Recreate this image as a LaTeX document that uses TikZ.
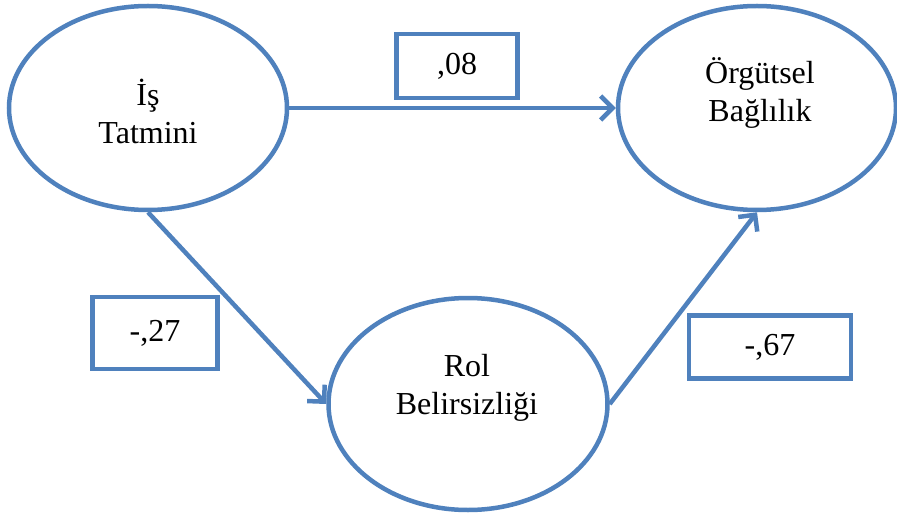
\documentclass[tikz,border=0pt]{standalone}
\usepackage{fontspec}
\setmainfont{Liberation Serif}
\usetikzlibrary{shapes.geometric,arrows.meta}
\definecolor{edgeblue}{RGB}{79,129,189}
\begin{document}
\begin{tikzpicture}[x=1pt,y=-1pt,
  oval/.style={ellipse,draw=edgeblue,fill=white,line width=4.5pt,inner sep=0pt},
  valbox/.style={rectangle,draw=edgeblue,fill=white,line width=4.5pt,inner sep=0pt,font=\fontsize{32}{38}\selectfont},
  lbl/.style={align=center,font=\fontsize{32}{38}\selectfont,inner sep=0pt},
  conn/.style={draw=edgeblue,line width=4.5pt,-{Straight Barb[length=12pt,width=24pt]}}]
\useasboundingbox (0,0) rectangle (897,513);
\node[oval,minimum width=278pt,minimum height=204pt] (e1) at (148,108) {};
\node[oval,minimum width=278pt,minimum height=204pt] (e2) at (757,108) {};
\node[oval,minimum width=279pt,minimum height=212pt] (e3) at (468,404) {};
\node[lbl] (t1) at (148,111) {İş\\Tatmini};
\node[lbl] (t2) at (760,93) {Örgütsel\\Bağlılık};
\node[lbl] (t3) at (467,388) {Rol\\Belirsizliği};
\node[valbox,minimum width=121pt,minimum height=64pt] (b1) at (457,66) {,08};
\node[valbox,minimum width=125pt,minimum height=72pt] (b2) at (155,333) {-,27};
\node[valbox,minimum width=162pt,minimum height=63pt] (b3) at (770,347) {-,67};
\draw[conn] (e1.east) -- (e2.west);
\draw[conn] (e1.south) -- (e3.west);
\draw[conn] (e3.east) -- (e2.south);
\end{tikzpicture}
\end{document}
